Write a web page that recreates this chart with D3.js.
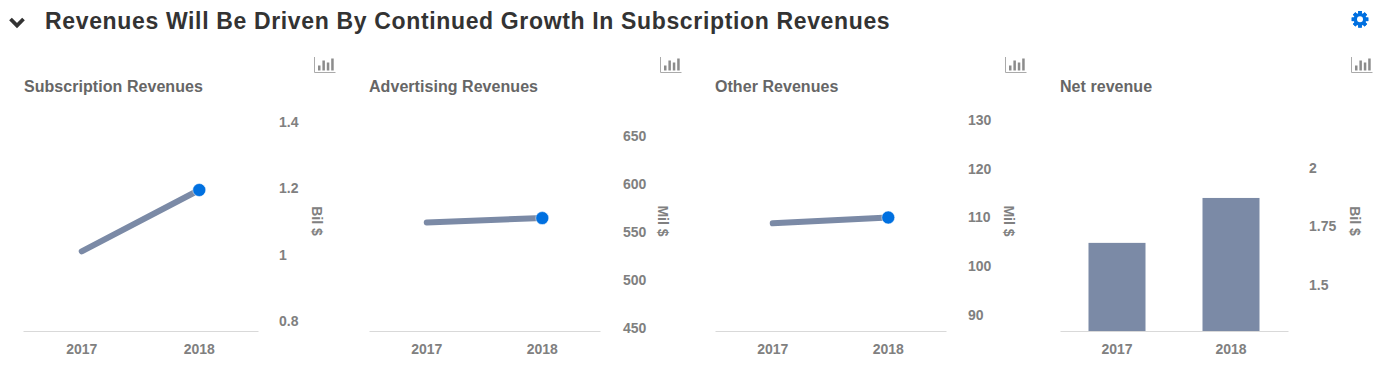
<!DOCTYPE html>
<html>
<head>
<meta charset="utf-8">
<script src="https://cdn.jsdelivr.net/npm/d3@7"></script>
<style>
    html, body { margin: 0; padding: 0; background: #fff; overflow: hidden; }
    text { font-family: "Liberation Sans", Arial, sans-serif; font-weight: bold; }
</style>
</head>
<body>
<div id="chart"></div>
<script>
// DATA
// ================================================================================== //
const years = ["2017", "2018"];

const subscriptionValues = [1.01, 1.195];
const subscriptionTicks = [0.8, 1, 1.2, 1.4];

const advertisingValues = [560, 564.5];
const advertisingTicks = [450, 500, 550, 600, 650];

const otherValues = [108.8, 110];
const otherTicks = [90, 100, 110, 120, 130];

const netRevenueValues = [1.68, 1.872];
const netRevenueTicks = [1.5, 1.75, 2];

const titleText = "Revenues Will Be Driven By Continued Growth In Subscription Revenues";
// ================================================================================== //
// DATA END

const width = 1390
const height = 367
const baseline = 331

const LINE_COLOR = "#7b8aa6"
const DOT_COLOR = "#0070e0"
const TICK_COLOR = "#808080"

const panels = [
    { name: "Subscription Revenues", unit: "Bil $", type: "line", values: subscriptionValues, ticks: subscriptionTicks,
      left: 23, right: 258, yLow: 321, yHigh: 122, axisX: 279, unitX: 312, titleX: 24, iconX: 314 },
    { name: "Advertising Revenues", unit: "Mil $", type: "line", values: advertisingValues, ticks: advertisingTicks,
      left: 369, right: 600, yLow: 328, yHigh: 136, axisX: 623, unitX: 658, titleX: 369, iconX: 660 },
    { name: "Other Revenues", unit: "Mil $", type: "line", values: otherValues, ticks: otherTicks,
      left: 715, right: 946, yLow: 315, yHigh: 120, axisX: 968, unitX: 1004, titleX: 715, iconX: 1005 },
    { name: "Net revenue", unit: "Bil $", type: "bar", values: netRevenueValues, ticks: netRevenueTicks,
      left: 1060, right: 1288, yLow: 285, yHigh: 168, axisX: 1309, unitX: 1350, titleX: 1060, iconX: 1351 }
];

const svg = d3.select("#chart")
    .append("svg")
    .attr("width", width)
    .attr("height", height)
    .attr("viewBox", [0, 0, width, height])
    .style("display", "block");

// header
svg.append("path")
    .attr("d", "M10.5,19 L17,25.5 L23.5,19")
    .attr("fill", "none")
    .attr("stroke", "#333333")
    .attr("stroke-width", 3.8);

svg.append("text")
    .attr("x", 45)
    .attr("y", 29)
    .attr("fill", "#333333")
    .attr("font-size", 23)
    .attr("letter-spacing", 0.65)
    .text(titleText);

// settings gear
const gear = svg.append("g").attr("transform", "translate(1360,19.3)");
gear.selectAll("rect")
    .data(d3.range(8))
    .join("rect")
    .attr("x", -1.8)
    .attr("y", -8.3)
    .attr("width", 3.6)
    .attr("height", 16.6)
    .attr("fill", DOT_COLOR)
    .attr("transform", d => `rotate(${d * 45})`);
gear.append("circle").attr("r", 6.3).attr("fill", DOT_COLOR);
gear.append("circle").attr("r", 3).attr("fill", "#ffffff");

const drawIcon = (g, x0) => {
    const icon = g.append("g").attr("transform", `translate(${x0},57)`);
    icon.append("path")
        .attr("d", "M0.5,0 V15.5 H21.5")
        .attr("fill", "none")
        .attr("stroke", "#aaaaaa");
    icon.selectAll("rect")
        .data([5, 10, 8, 12])
        .join("rect")
        .attr("x", (d, i) => 4 + i * 4.4)
        .attr("y", d => 13.5 - d)
        .attr("width", 2.5)
        .attr("height", d => d)
        .attr("fill", "#8c8c8c");
}

panels.forEach(p => {
    const g = svg.append("g");

    const x = d3.scaleBand()
        .domain(years)
        .range([p.left, p.right]);

    const y = d3.scaleLinear()
        .domain([p.ticks[0], p.ticks[p.ticks.length - 1]])
        .range([p.yLow, p.yHigh]);

    const cx = year => x(year) + x.bandwidth() / 2;

    g.append("text")
        .attr("x", p.titleX)
        .attr("y", 92)
        .attr("fill", "#666666")
        .attr("font-size", 16)
        .attr("letter-spacing", 0.05)
        .text(p.name);

    drawIcon(g, p.iconX);

    // x axis
    g.append("g")
        .attr("transform", `translate(0,${baseline})`)
        .call(d3.axisBottom(x).tickSize(0).tickPadding(13))
        .call(g => g.select(".domain").attr("stroke", "#d9d9d9").attr("stroke-width", 1.2))
        .call(g => g.selectAll("text")
            .attr("fill", TICK_COLOR)
            .attr("font-size", 14)
            .attr("font-family", "Liberation Sans"));

    // y axis, labels only
    g.append("g")
        .attr("transform", `translate(${p.axisX},0)`)
        .call(d3.axisRight(y).tickValues(p.ticks).tickSize(0).tickPadding(0).tickFormat(d3.format("")))
        .call(g => g.select(".domain").remove())
        .call(g => g.selectAll("text")
            .attr("fill", TICK_COLOR)
            .attr("font-size", 14)
            .attr("font-family", "Liberation Sans"));

    g.append("text")
        .attr("transform", `translate(${p.unitX},221) rotate(90)`)
        .attr("text-anchor", "middle")
        .attr("fill", TICK_COLOR)
        .attr("font-size", 14)
        .text(p.unit);

    const rows = years.map((year, i) => ({ year, value: p.values[i] }));

    if (p.type === "bar") {
        const barWidth = x.bandwidth() / 2;
        g.selectAll(".bar")
            .data(rows)
            .join("rect")
            .attr("class", "bar")
            .attr("x", d => cx(d.year) - barWidth / 2)
            .attr("y", d => y(d.value))
            .attr("width", barWidth)
            .attr("height", d => baseline - y(d.value))
            .attr("fill", LINE_COLOR);
    } else {
        const line = d3.line()
            .x(d => cx(d.year))
            .y(d => y(d.value));

        g.append("path")
            .datum(rows)
            .attr("d", line)
            .attr("fill", "none")
            .attr("stroke", LINE_COLOR)
            .attr("stroke-width", 6)
            .attr("stroke-linecap", "round");

        const last = rows[rows.length - 1];
        g.append("circle")
            .attr("cx", cx(last.year))
            .attr("cy", y(last.value))
            .attr("r", 6.5)
            .attr("fill", DOT_COLOR)
            .attr("stroke", "#ffffff")
            .attr("stroke-width", 0.5);
    }
});
</script>
</body>
</html>
